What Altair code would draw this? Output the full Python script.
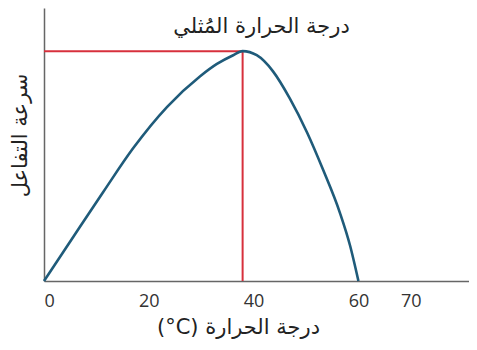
import altair as alt
import pandas as pd

# Curve (temperature °C, relative reaction rate)
temp = [0, 5.7, 11.3, 17.0, 23.5, 29.8, 33.0, 36.1, 37.9, 40.6, 43.7, 46.9, 50.2, 53.2, 56.5, 58.4, 60.0]
rate = [0, 16.5, 32.6, 48.6, 63.8, 75.0, 79.5, 82.7, 84.2, 82.7, 76.8, 66.9, 54.4, 41.0, 24.8, 13.0, 0]

peak_temp = 37.9
peak_rate = 84.2

x_ticks = [0, 20, 40, 60, 70]
x_title = "(°C) درجة الحرارة"
y_title = "سرعة التفاعل"
annotation = "درجة الحرارة المُثلي"
ann_x = [41.5]
ann_y = [93.0]

curve_df = pd.DataFrame({"t": temp, "r": rate})
hline_df = pd.DataFrame({"t": [0], "t2": [peak_temp], "r": [peak_rate]})
vline_df = pd.DataFrame({"t": [peak_temp], "r": [0], "r2": [peak_rate]})
ann_df = pd.DataFrame({"t": ann_x, "r": ann_y, "label": [annotation]})

x_scale = alt.Scale(domain=[0, 81.1], nice=False, zero=False)
y_scale = alt.Scale(domain=[0, 100], nice=False)

x_axis = alt.Axis(
    values=x_ticks, title=x_title, grid=False, ticks=False,
    labelFont="Open Sans", labelFontSize=18, labelColor="#333333", labelPadding=11,
    domainColor="#666666", domainWidth=1.5,
    titleFont="DejaVu Sans", titleFontSize=21, titleFontWeight="normal", titleColor="#222222",
    titleX=194, titleY=46, titleBaseline="middle", titleAnchor="middle", titleAlign="center",
)
y_axis = alt.Axis(
    title=y_title, grid=False, ticks=False, labels=False,
    domainColor="#666666", domainWidth=1.5,
    titleFont="DejaVu Sans", titleFontSize=21, titleFontWeight="normal", titleColor="#222222",
    titleAngle=270, titleX=-24, titleY=127, titleBaseline="middle", titleAlign="center",
)

curve = alt.Chart(curve_df).mark_line(
    color="#1f5b7a", strokeWidth=2.6, interpolate="monotone"
).encode(
    x=alt.X("t:Q", scale=x_scale, axis=x_axis),
    y=alt.Y("r:Q", scale=y_scale, axis=y_axis),
)

hline = alt.Chart(hline_df).mark_rule(color="#d7303c", strokeWidth=2).encode(
    x=alt.X("t:Q", scale=x_scale), x2="t2:Q", y=alt.Y("r:Q", scale=y_scale)
)
vline = alt.Chart(vline_df).mark_rule(color="#d7303c", strokeWidth=2).encode(
    x=alt.X("t:Q", scale=x_scale), y=alt.Y("r:Q", scale=y_scale), y2="r2:Q"
)

ann = alt.Chart(ann_df).mark_text(
    font="DejaVu Sans", fontSize=21, color="#222222", align="center", baseline="middle"
).encode(
    x=alt.X("t:Q", scale=x_scale), y=alt.Y("r:Q", scale=y_scale), text="label:N"
)

chart = alt.layer(hline, vline, curve, ann).properties(
    width=425, height=273,
    autosize=alt.AutoSizeParams(type="none"),
    padding={"left": 36, "top": 0, "right": 0, "bottom": 60},
).configure_view(stroke=None)

chart.save("out.html", embed_options={"renderer": "svg", "actions": False})
